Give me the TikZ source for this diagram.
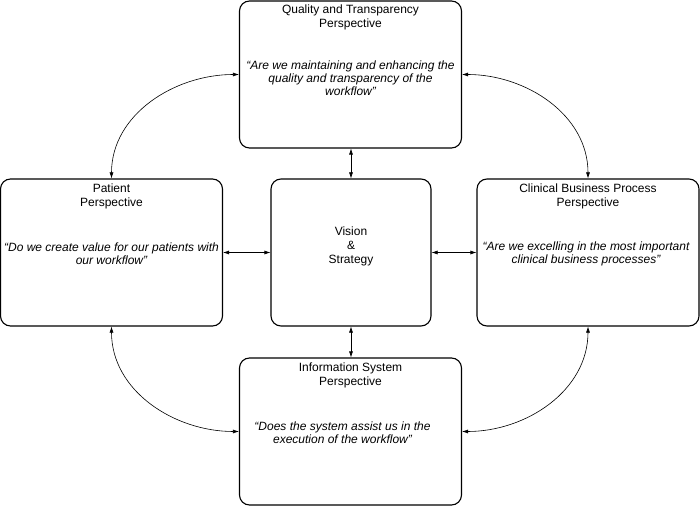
\documentclass[tikz,border=0pt]{standalone}
\usepackage{fontspec}
\setmainfont{Liberation Sans}
\usetikzlibrary{arrows.meta,positioning}

\begin{document}
\begin{tikzpicture}[x=1pt, y=1pt,
					>={Latex[length=6pt,width=4pt]},   % small filled tips
					box/.style={draw, line width=1.1pt, rounded corners=10pt, minimum width=#1, minimum height=147pt, inner sep=0pt},
					box/.default=222pt,
					title/.style={font=\fontsize{12}{14}\selectfont, align=center, inner sep=0pt},
					quote/.style={font=\fontsize{12}{13}\selectfont\itshape, align=center, inner sep=0pt},
					link/.style={<->, line width=0.6pt}]
					% picture area
					\useasboundingbox (0,0) rectangle (700,506);
					% boxes
					\node[box] (qt) at (350.5,431.5) {};
					\node[box] (pt) at (111.5,253.5) {};
					\node[box] (cb) at (588,253.5) {};
					\node[box=160pt] (vs) at (351,253.5) {};
					\node[box] (is) at (350.5,74.5) {};
					% headings
					\node[title, below=4.5pt of qt.north] (qtTitle) {Quality and Transparency\\Perspective};
					\node[title, below=5pt of pt.north] (ptTitle) {Patient\\Perspective};
					\node[title, below=5pt of cb.north] (cbTitle) {Clinical Business Process\\Perspective};
					\node[title, below=5pt of is.north] (isTitle) {Information System\\Perspective};
					\node[title] (vsText) at ([yshift=6pt]vs.center) {Vision\\\&\\Strategy};
					% questions
					\node[quote] (qtQuote) at ([yshift=-3.5pt]qt.center) {“Are we maintaining and enhancing the\\quality and transparency of the\\workflow”};
					\node[quote] (ptQuote) at ([yshift=-1pt]pt.center) {“Do we create value for our patients with\\our workflow”};
					\node[quote] (cbQuote) at ([xshift=-2pt,yshift=-1.5pt]cb.center) {“Are we excelling in the most important\\clinical business processes”};
					\node[quote] (isQuote) at ([xshift=-8pt,yshift=-1pt]is.center) {“Does the system assist us in the\\execution of the workflow”};
					% straight links
					\draw[link] (qt.south -| vs.north) -- (vs.north);
					\draw[link] (vs.south) -- (vs.south |- is.north);
					\draw[link] (pt.east) -- (vs.west);
					\draw[link] (vs.east) -- (cb.west);
					% curved links
					\draw[link] (qt.west) to[out=180, in=90] (pt.north);
					\draw[link] (qt.east) to[out=0, in=90] (cb.north);
					\draw[link] (pt.south) to[out=-90, in=180] (is.west);
					\draw[link] (cb.south) to[out=-90, in=0] (is.east);
				\end{tikzpicture}
\end{document}
